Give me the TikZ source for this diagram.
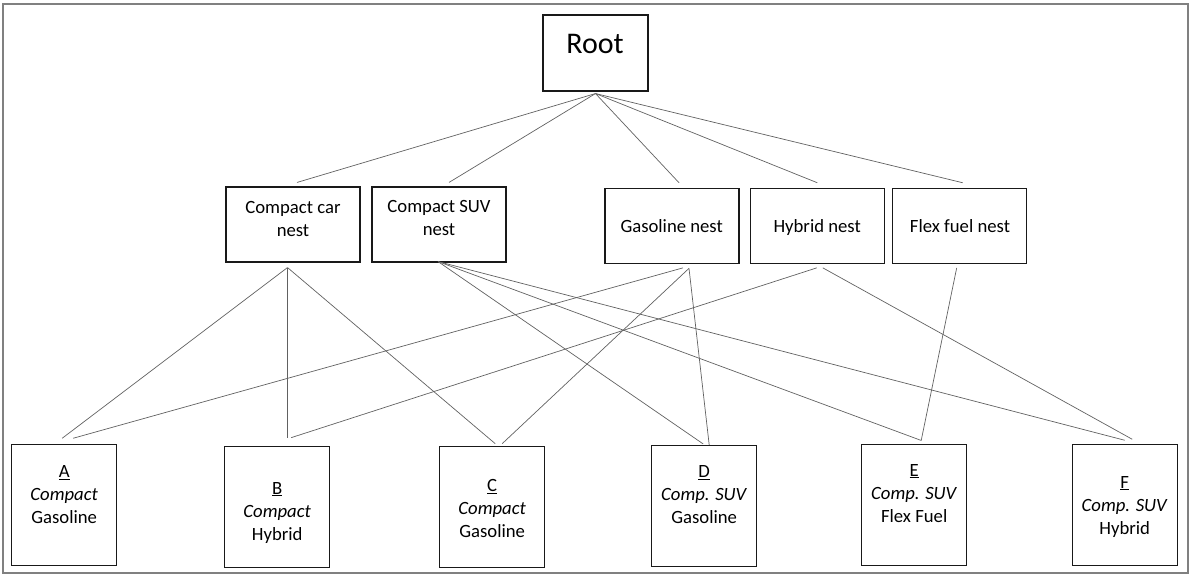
\documentclass[tikz,border=0pt]{standalone}
\usepackage{fontspec}
\setmainfont{Carlito}
\newcommand{\stk}[1]{\begin{tabular}[t]{@{}c@{}}#1\end{tabular}}
\begin{document}
\begin{tikzpicture}[x=1pt,y=-1pt,
  box/.style={draw=black!90, line width=1.1pt, inner sep=0pt},
  nestbox/.style={box, minimum width=134pt, minimum height=75pt},
  leafbox/.style={box, minimum width=105pt, minimum height=121pt},
  conn/.style={draw=black!62, line width=0.7pt},
  lbl/.style={inner sep=0pt, anchor=base, font=\fontsize{18.7}{23}\selectfont},
]
\useasboundingbox (0,0) rectangle (1192,575);
\draw[black!50, line width=1.6pt] (3,4) rectangle (1188,573);

% root
\node[box, minimum width=105pt, minimum height=76pt] (root) at (595.5,53) {};
\node[lbl, font=\fontsize{30}{36}\selectfont] (roott) at (595,53.3) {Root};

% nests
\node[nestbox] (ccn)  at (293,224.5) {};
\node[nestbox] (csn)  at (439,224.5) {};
\node[nestbox] (gas)  at (672,225.8) {};
\node[nestbox] (hyb)  at (817.3,225.8) {};
\node[nestbox] (flex) at (959.7,225.8) {};
\node[lbl] (ccnt)  at (293,213.3) {\stk{Compact car\\nest}};
\node[lbl] (csnt)  at (439,212.7) {\stk{Compact SUV\\nest}};
\node[lbl] (gast)  at (671.7,232.7) {Gasoline nest};
\node[lbl] (hybt)  at (817.2,232.7) {Hybrid nest};
\node[lbl] (flext) at (960,232.7) {Flex fuel nest};

% leaves
\node[leafbox] (A) at (64.2,505.3) {};
\node[leafbox] (B) at (277.2,506.7) {};
\node[leafbox] (C) at (492.2,506.7) {};
\node[leafbox] (D) at (704.2,506) {};
\node[leafbox] (E) at (914.2,505) {};
\node[leafbox] (F) at (1124.7,505.3) {};
\node[lbl] (At) at (64.2,477.3)  {\stk{\underline{A}\\\textit{Compact}\\Gasoline}};
\node[lbl] (Bt) at (277.2,494)   {\stk{\underline{B}\\\textit{Compact}\\Hybrid}};
\node[lbl] (Ct) at (492.2,491.7) {\stk{\underline{C}\\\textit{Compact}\\Gasoline}};
\node[lbl] (Dt) at (704.2,477.3) {\stk{\underline{D}\\\textit{Comp. SUV}\\Gasoline}};
\node[lbl] (Et) at (914.2,476)   {\stk{\underline{E}\\\textit{Comp. SUV}\\Flex Fuel}};
\node[lbl] (Ft) at (1124.7,488)  {\stk{\underline{F}\\\textit{Comp. SUV}\\Hybrid}};

% root to nests
\draw[conn] ([yshift=-2pt]root.south) -- ([xshift=4pt,yshift=4pt]ccn.north);
\draw[conn] ([yshift=-2pt]root.south) -- ([xshift=10pt,yshift=4pt]csn.north);
\draw[conn] ([yshift=-2pt]root.south) -- ([xshift=7pt,yshift=5pt]gas.north);
\draw[conn] ([yshift=-2pt]root.south) -- ([xshift=0pt,yshift=5pt]hyb.north);
\draw[conn] ([yshift=-2pt]root.south) -- ([xshift=3pt,yshift=5pt]flex.north);

% compact car nest
\draw[conn] ([xshift=-5.5pt,yshift=-5pt]ccn.south) -- ([xshift=-2pt,yshift=6pt]A.north);
\draw[conn] ([xshift=-5.5pt,yshift=-5pt]ccn.south) -- ([xshift=10.3pt,yshift=7.5pt]B.north);
\draw[conn] ([xshift=-5.5pt,yshift=-5pt]ccn.south) -- ([xshift=3pt,yshift=2pt]C.north);

% compact SUV nest
\draw[conn] ([xshift=-1pt,yshift=1pt]csn.south) -- ([xshift=-1pt,yshift=1pt]D.north);
\draw[conn] ([xshift=-1pt,yshift=1pt]csn.south) -- ([xshift=7pt,yshift=3.5pt]E.north);
\draw[conn] ([xshift=-1pt,yshift=1pt]csn.south) -- ([xshift=0pt,yshift=4pt]F.north);

% gasoline nest
\draw[conn] ([xshift=11pt,yshift=-4pt]gas.south) -- ([xshift=9pt,yshift=6pt]A.north);
\draw[conn] ([xshift=17pt,yshift=-4.5pt]gas.south) -- ([xshift=10pt,yshift=2pt]C.north);
\draw[conn] ([xshift=17pt,yshift=-4.5pt]gas.south) -- ([xshift=5pt,yshift=0pt]D.north);

% hybrid nest
\draw[conn] ([xshift=-0.5pt,yshift=-4pt]hyb.south) -- ([xshift=14pt,yshift=8pt]B.north);
\draw[conn] ([xshift=5.5pt,yshift=-4pt]hyb.south) -- ([xshift=7.5pt,yshift=5pt]F.north);

% flex fuel nest
\draw[conn] ([xshift=-3pt,yshift=-4pt]flex.south) -- ([xshift=7pt,yshift=3.5pt]E.north);
\end{tikzpicture}
\end{document}
